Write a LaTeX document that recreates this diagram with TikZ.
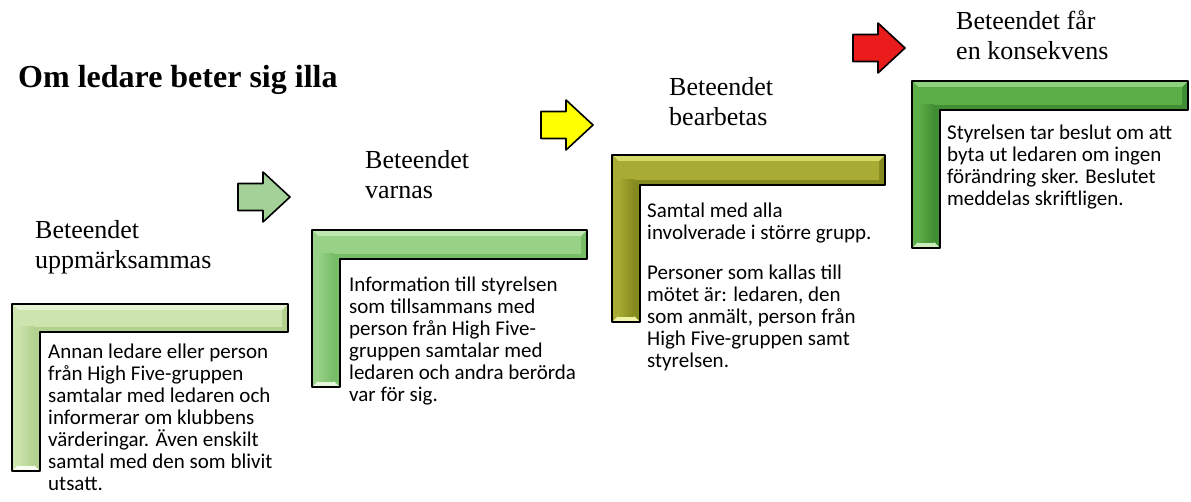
\documentclass[tikz,border=0pt]{standalone}
\usepackage{fontspec}
\setmainfont{Liberation Serif}
\newfontfamily\bodyfont{Carlito}

\definecolor{palehi}{HTML}{F8FCF1}
\definecolor{palelt}{HTML}{E6F3D3}
\definecolor{palemd}{HTML}{CDE4AE}
\definecolor{paledk}{HTML}{B2D18E}
\definecolor{limehi}{HTML}{E4F5DC}
\definecolor{limelt}{HTML}{C0E7B2}
\definecolor{limemd}{HTML}{97D286}
\definecolor{limedk}{HTML}{77BC66}
\definecolor{olivehi}{HTML}{F1F3A6}
\definecolor{olivelt}{HTML}{D5D96A}
\definecolor{olivemd}{HTML}{A8AC34}
\definecolor{olivedk}{HTML}{858A1E}
\definecolor{grasshi}{HTML}{CBEDBB}
\definecolor{grasslt}{HTML}{8FD27C}
\definecolor{grassmd}{HTML}{5CAE48}
\definecolor{grassdk}{HTML}{408E33}
\definecolor{arrowgreen}{HTML}{A3D197}
\definecolor{arrowred}{HTML}{EA1B1B}

\tikzset{bodytext/.style = {anchor=base west, inner sep=0pt, align=left,
    font=\bodyfont\fontsize{21}{22}\selectfont}}
\tikzset{steplabel/.style = {anchor=base west, inner sep=0pt, align=left,
    font=\fontsize{26}{30}\selectfont}}
\tikzset{outline/.style = {draw=black, line width=1.6pt, line join=round}}

% L-shaped bevel frame: left, top, right, bottom, bar bottom, bar right, colour
\newcommand{\lframe}[7]{%
  \fill[#7dk] (#1,#2) -- (#3,#2) -- (#3,#5) -- (#6,#5) -- (#6,#4) -- (#1,#4) -- cycle;
  \fill[#7lt] (#1,#2) -- (#3,#2) -- (#3-6,#2+6) -- (#1+6,#2+6) -- cycle;
  \fill[#7md] (#1,#2) -- (#1+6,#2+6) -- (#1+6,#4-6) -- (#1,#4) -- cycle;
  \fill[#7hi] (#1,#4) -- (#1+6,#4-6) -- (#6-6,#4-6) -- (#6,#4) -- cycle;
  \shade[top color=#7md, middle color=#7hi, bottom color=#7md]
    (#1+6,#2+6) rectangle (#3-6,#5-6);
  \shade[left color=#7md, middle color=#7lt, right color=#7dk]
    (#1+6,#5-6) rectangle (#6-6,#4-6);
  \draw[outline]
    (#1,#2) -- (#3,#2) -- (#3,#5) -- (#6,#5) -- (#6,#4) -- (#1,#4) -- cycle;
}

% block arrow: left end, middle height, colour, highlight
\newcommand{\gelarrow}[4]{%
  \shade[outline, top color=#3, middle color=#4, bottom color=#3, shift={(#1,#2)}]
    (0,-13.5) -- (25,-13.5) -- (25,-25) -- (52,0) -- (25,25) -- (25,13.5)
    -- (0,13.5) -- cycle;
}

\begin{document}
\begin{tikzpicture}[x=1pt, y=-1pt]
    \useasboundingbox (0,0) rectangle (1191,501);

    \node[anchor=base west, inner sep=0pt, font=\bfseries\fontsize{32}{38}\selectfont]
        (title) at (18,87) {Om ledare beter sig illa};

    \lframe{12}{304}{288}{471}{332}{40}{pale}
    \lframe{312}{230}{587}{387}{259}{340}{lime}
    \lframe{612}{155}{885}{322}{185}{640}{olive}
    \lframe{912}{81}{1188}{248}{110}{940}{grass}

    \gelarrow{238}{197}{arrowgreen}{limehi}
    \gelarrow{541}{125}{yellow}{yellow!25}
    \gelarrow{853}{48}{arrowred}{red!30}

    % base is the last line of each text
    \node[steplabel] (labelA) at (35,268) {Beteendet\\uppmärksammas};
    \node[steplabel] (labelB) at (365,198) {Beteendet\\varnas};
    \node[steplabel] (labelC) at (669,125) {Beteendet\\bearbetas};
    \node[steplabel] (labelD) at (956,59) {Beteendet får\\en konsekvens};

    \node[bodytext] (textA) at (48,490) {Annan ledare eller person\\från High Five-gruppen\\samtalar med ledaren och\\informerar om klubbens\\värderingar. Även enskilt\\samtal med den som blivit\\utsatt.};
    \node[bodytext] (textB) at (349,401) {Information till styrelsen\\som tillsammans med\\person från High Five-\\gruppen samtalar med\\ledaren och andra berörda\\var för sig.};
    \node[bodytext] (textC) at (647,367) {Samtal med alla\\involverade i större grupp.\\[18pt]Personer som kallas till\\mötet är: ledaren, den\\som anmält, person från\\High Five-gruppen samt\\styrelsen.};
    \node[bodytext] (textD) at (947,205) {Styrelsen tar beslut om att\\byta ut ledaren om ingen\\förändring sker. Beslutet\\meddelas skriftligen.};
\end{tikzpicture}
\end{document}
